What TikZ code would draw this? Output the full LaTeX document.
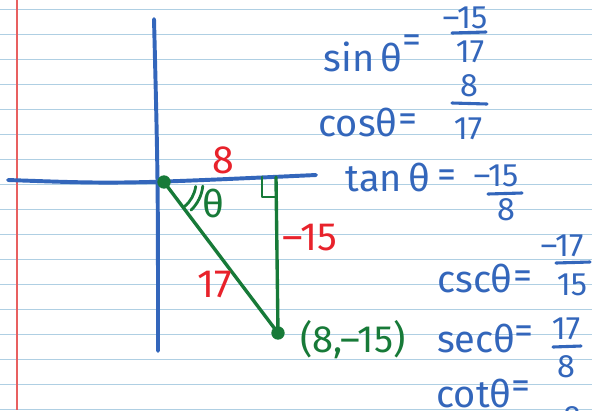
\documentclass[tikz,border=0pt]{standalone}
\usepackage{fontspec}
\setmainfont{Fira Sans}
\usepackage{xcolor}
\usepackage{tikz}
\usetikzlibrary{positioning}

\definecolor{penblue}{HTML}{3366BB}
\definecolor{pengreen}{HTML}{177A38}
\definecolor{penred}{HTML}{E8222B}
\definecolor{ruleblue}{HTML}{AFCFE3}
\definecolor{marginred}{HTML}{E86060}

\tikzset{
    rule/.style={draw=ruleblue, line width=1.1pt},
    axis/.style={draw=penblue, line width=2.8pt, line cap=round},
    leg/.style={draw=pengreen, line width=2.4pt, line cap=round, line join=round},
    dot/.style={circle, fill=pengreen, inner sep=0pt, minimum size=9.5pt},
    pen/.style={text=penblue, inner sep=0pt, font=\fontsize{27}{30}\selectfont},
    frc/.style={text=penblue, inner sep=0pt, font=\fontsize{23}{26}\selectfont},
    bar/.style={draw=penblue, line width=2.2pt, line cap=round},
    redlbl/.style={text=penred, inner sep=0pt, font=\fontsize{28}{30}\selectfont},
    greenlbl/.style={text=pengreen, inner sep=0pt, font=\fontsize{27}{30}\selectfont}
}

\begin{document}
\begin{tikzpicture}[x=0.025cm, y=-0.025cm]
    \useasboundingbox (0,0) rectangle (592,410);
    \clip (0,0) rectangle (592,410);
    \fill[white] (0,0) rectangle (592,410);
    % ruled paper
    \foreach \k in {0,...,16}
        \draw[rule] (0,{9.3+25*\k}) -- (592,{9.3+25*\k});
    \draw[draw=marginred, line width=0.8pt] (17,0) -- (17,410);

    % axes
    \draw[axis] (154,19) .. controls (158,180) .. (158,351);
    \draw[axis] (8,180) .. controls (120,184) .. (316,175);

    % triangle
    \node[dot] (O) at (164,182) {};
    \node[dot] (P) at (278,333) {};
    \coordinate (F) at (276,177);
    \draw[leg] (O.center) -- (P.center) -- (F);
    \draw[leg, line width=2pt] (262,177) -- (262,197) -- (F |- 0,197);
    \draw[leg, line width=2pt] (O.center) ++(8:32) arc[start angle=8, end angle=50, radius=32];
    \draw[leg, line width=2pt] (O.center) ++(6:39) arc[start angle=6, end angle=46, radius=39];
    \node[greenlbl] (theta) at (213,203) {θ};
    \node[greenlbl] (Plbl) at (353,340) {(8,--15)};

    % side lengths
    \node[redlbl] (adj) at (223,160) {8};
    \node[redlbl] (opp) at (310,238) {--15};
    \node[redlbl] (hyp) at (215,285) {17};

    % ratios
    \node[pen] (sin) at (363,57) {sin\,θ};
    \node[pen] (sineq) at (412,44) {=};
    \node[frc] (sinnum) at (465,18) {--15};
    \node[frc] (sinden) at (470,52) {17};
    \draw[bar] (452,33) -- (486,32);

    \node[pen] (cos) at (358,122) {cosθ};
    \node[pen] (coseq) at (408,123) {=};
    \node[frc] (cosnum) at (469,86) {8};
    \node[frc] (cosden) at (468,129) {17};
    \draw[bar] (452,103) -- (487,104);

    \node[pen] (tan) at (388,177) {tan\,θ};
    \node[pen] (taneq) at (447,179) {=};
    \node[frc] (tannum) at (496,176) {--15};
    \node[frc] (tanden) at (506,210) {8};
    \draw[bar] (488,194) -- (522,193);

    \node[pen] (csc) at (475,278) {cscθ};
    \node[pen] (csceq) at (523,280) {=};
    \node[frc] (cscnum) at (562,246) {--17};
    \node[frc] (cscden) at (572,285) {15};
    \draw[bar] (556,263) -- (590,262);

    \node[pen] (sec) at (476,338) {secθ};
    \node[pen] (seceq) at (524,335) {=};
    \node[frc] (secnum) at (566,329) {17};
    \node[frc] (secden) at (566,367) {8};
    \draw[bar] (553,347) -- (581,346);

    \node[pen] (cot) at (474,393) {cotθ};
    \node[pen] (coteq) at (521,390) {=};
    \node[frc] (cotnum) at (572,418) {8};
\end{tikzpicture}
\end{document}
